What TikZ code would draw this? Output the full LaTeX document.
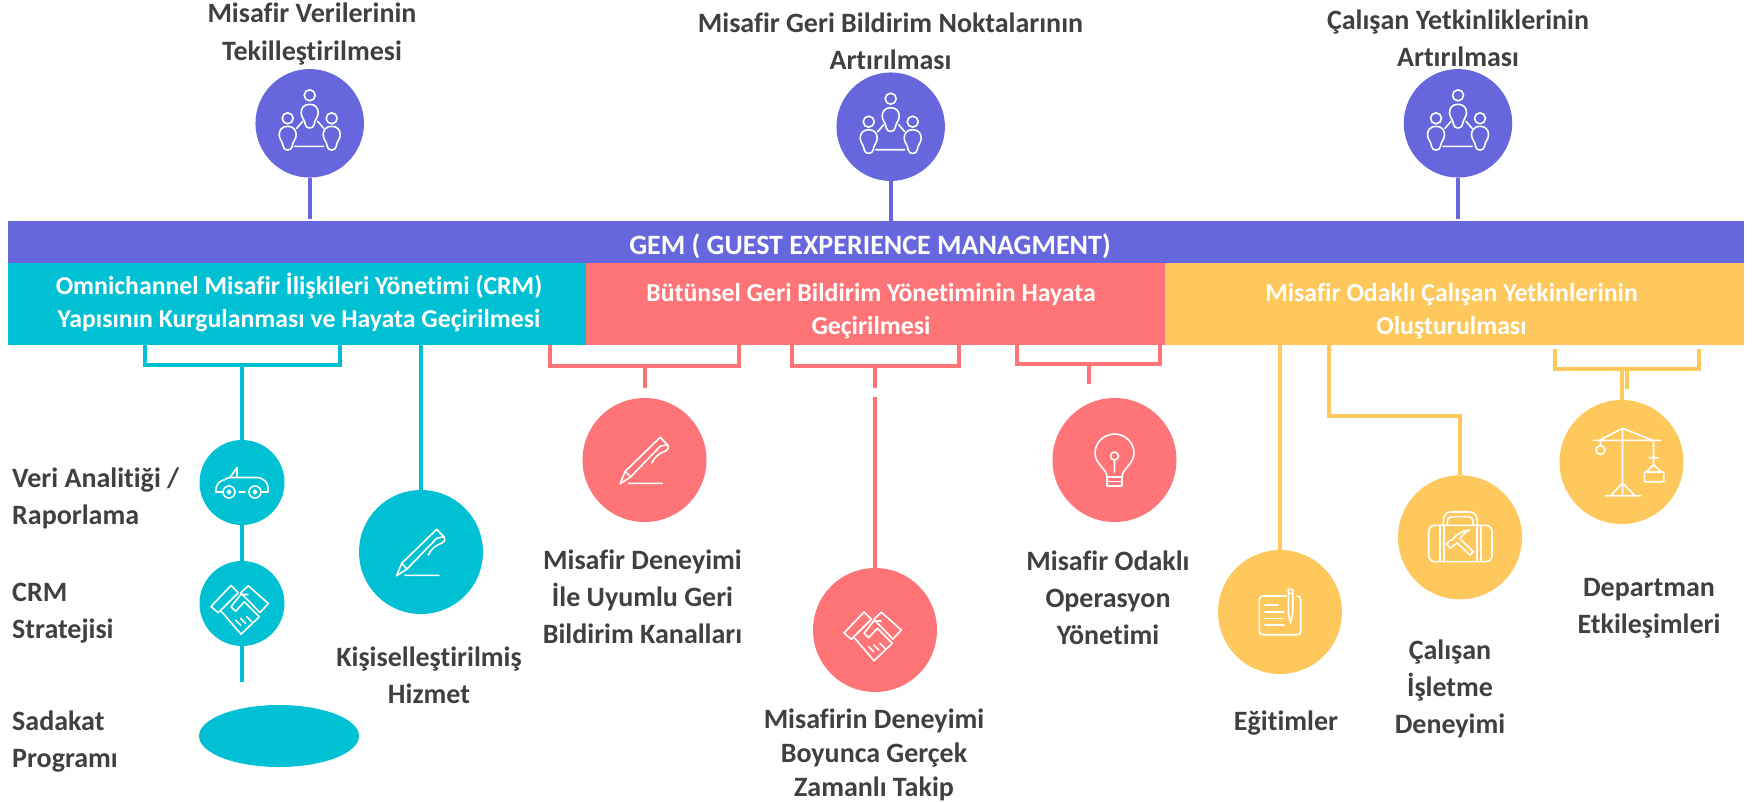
\documentclass[tikz,border=0pt]{standalone}
\usetikzlibrary{shapes.geometric}
\usepackage{fontspec}
\setmainfont[Ligatures=NoCommon]{Carlito}
\definecolor{cpur}{HTML}{6666DD}
\definecolor{cteal}{HTML}{00C1D4}
\definecolor{cred}{HTML}{FF7477}
\definecolor{cyel}{HTML}{FFC85C}
\definecolor{ctext}{HTML}{404040}
\tikzset{
  x=1pt,y=-1pt,
  lab/.style={text=ctext,font=\fontsize{28}{37}\selectfont\bfseries,align=center,inner sep=0pt},
  labl/.style={lab,align=left,anchor=west},
  band/.style={fill=#1,inner sep=0pt,outer sep=0pt},
  bandtext/.style={text=white,align=center,inner sep=0pt,font=\fontsize{25.8}{33}\selectfont\bfseries},
  disc/.style={circle,fill=#1,inner sep=0pt,outer sep=0pt},
  conn/.style={draw=#1,line width=4pt},
  ico/.style={draw=white,line width=1.6pt,line cap=round,line join=round},
  bulbp/.pic={\draw[ico] (0,0) .. controls (-6,0) and (-8.5,4) .. (-8.5,8.5) .. controls (-8.5,13) and (-5,15) .. (-4.5,20) .. controls (-4,25) and (4,25) .. (4.5,20) .. controls (5,15) and (8.5,13) .. (8.5,8.5) .. controls (8.5,4) and (6,0) .. (0,0) -- cycle;},
  people/.pic={
    \draw[ico] (0,-28) circle (5.5) (-22,-5) circle (5.5) (22,-5) circle (5.5);
    \pic at (0,-19) {bulbp}; \pic at (-22,3) {bulbp}; \pic at (22,3) {bulbp};
    \draw[ico] (-15,23)--(14,23) (-13,5)--(-7,-2) (14,5)--(8,-2);},
  caricon/.pic={
    \draw[ico] (-26,9.5) .. controls (-27,2) and (-22,-2) .. (-17,-3) .. controls (-15,-4) and (-14,-5) .. (-12,-5) -- (14,-5) .. controls (22,-5) and (27,0) .. (26,9.5);
    \draw[ico] (-12,-5) -- (-5,-15) -- (-5,-5);
    \draw[ico] (-13,9.5) circle (6) (13,9.5) circle (6) (-13,9.5) circle (1.8) (13,9.5) circle (1.8);
    \draw[ico] (-26,9.5)--(-20,9.5) (-3,9.5)--(3,9.5) (20,9.5)--(26,9.5);},
  shake/.pic={
    \draw[ico] (-31,3)--(-11,-18)--(-3.7,-10.7)--(-23.7,9.3)--cycle;
    \draw[ico] (-1.3,-10.7)--(6.3,-17.7)--(26.3,0)--(18,9)--cycle;
    \draw[ico] (-20.3,8.3)--(-1,30.7)--(17.3,13.3)--(2.3,-1.7)--(-6.3,7.7)--(-11,3.3)--(-1.3,-9)--(6,-9);
    \draw[ico] (-6.3,16.7)--(-1.3,21.7) (-1.3,15)--(3.7,20) (4.7,13.3)--(9.7,18.3);},
  penicon/.pic={
    \draw[ico] (-24.3,23.7)--(-19.3,11.3)--(15.7,-22.7)--(23,-15.3) .. controls (24.5,-12) and (23.5,-10) .. (21,-9) .. controls (15,-7) and (10,-3) .. (7.3,3);
    \draw[ico] (-24.3,23.7)--(-14,17)--(15.7,-13.7)--(23,-15.3);
    \draw[ico] (-19.3,11.3)--(-14,17) (-16,23.3)--(18,23.3);},
  bulbicon/.pic={
    \draw[ico] (-7.5,17) .. controls (-7.5,9) and (-19.5,4) .. (-19.5,-7) .. controls (-19.5,-18) and (-10,-26) .. (0,-26) .. controls (10,-26) and (19.5,-18) .. (19.5,-7) .. controls (19.5,4) and (7.5,9) .. (7.5,17);
    \draw[ico] (-7.5,17) rectangle (7.5,26) (-7.5,21.5)--(7.5,21.5);
    \draw[ico] (0,-4) circle (4) (0,0)--(0,12);},
  noteicon/.pic={
    \draw[ico] (6,-16)--(-17,-16) .. controls (-19,-16) and (-20.7,-15) .. (-20.7,-13) -- (-20.7,19.5) .. controls (-20.7,21.5) and (-19,22.7) .. (-17,22.7) -- (17.5,22.7) .. controls (19.5,22.7) and (20.7,21.5) .. (20.7,19.5) -- (20.7,-12) .. controls (20.7,-14.5) and (19.5,-16) .. (17,-16);
    \draw[ico] (-15,-7)--(-2,-7) (-15,0)--(4,0) (-15,6.3)--(4,6.3) (-15,13)--(4,13);
    \draw[ico] (8.3,-22.7)--(12.7,-22.7)--(12.7,1)--(10.5,11.3)--(8.3,1)--cycle (8.3,-18.5)--(12.7,-18.5);},
  suiticon/.pic={
    \draw[ico,rounded corners=6pt] (-31.3,-12) rectangle (32,24.3);
    \draw[ico] (-16.7,-12)--(-16.7,-16) .. controls (-16.7,-22) and (-14,-25.3) .. (-9,-25.3)--(9.5,-25.3) .. controls (14.5,-25.3) and (17.3,-22) .. (17.3,-16)--(17.3,-12);
    \draw[ico] (-12.7,-12)--(-12.7,-15) .. controls (-12.7,-18.5) and (-11,-20.7) .. (-8,-20.7)--(8.5,-20.7) .. controls (11.5,-20.7) and (13,-18.5) .. (13,-15)--(13,-12);
    \draw[ico] (-20,-12)--(-20,24.3) (-16,-12)--(-16,24.3) (16.7,-12)--(16.7,24.3) (20.7,-12)--(20.7,24.3);
    \draw[ico] (-13.3,6.7)--(-10,3)--(-8,3) .. controls (-4,-3) and (3,-7) .. (9.3,-7.3) .. controls (4,-4) and (1,-1) .. (0,1.5)--(13.3,14.5)--(10,17.7)--(-3,5.5)--(-9.5,11)--cycle;},
  craneicon/.pic={
    \draw[ico] (1,-33.7)--(1,33.7) (-28,-21.7)--(39.3,-21.7) (-22,-21.7)--(1,-33.7)--(31,-21.7);
    \draw[ico] (-16,33.7)--(19,33.7) (1,21)--(-10.6,33.7) (1,21)--(13.5,33.7);
    \draw[ico] (-21,-21.7)--(-21,-16.5) (-21,-12) circle (4.5);
    \draw[ico] (32,-21.7)--(32,3) (27.6,-4.3)--(36.4,-4.3) (24.5,10)--(32,3)--(40.3,10);
    \draw[ico,rounded corners=1pt] (22.8,10) rectangle (42.4,19.7);}
}
\begin{document}
\begin{tikzpicture}
\useasboundingbox (0,0) rectangle (1752,801);
% bands
\node[band=cpur,minimum width=1736,minimum height=42,anchor=north west] (gem) at (8,221) {};
\node[band=cteal,minimum width=578,minimum height=82,anchor=north west] (b1) at (8,263) {};
\node[band=cred,minimum width=579,minimum height=82,anchor=north west] (b2) at (586,263) {};
\node[band=cyel,minimum width=579,minimum height=82,anchor=north west] (b3) at (1165,263) {};
\node[bandtext,font=\fontsize{28}{33}\selectfont\bfseries] (gemt) at (870,246) {GEM ( GUEST EXPERIENCE MANAGMENT)};
\node[bandtext] (b1t) at (299,302) {Omnichannel Misafir İlişkileri Yönetimi (CRM)\\Yapısının Kurgulanması ve Hayata Geçirilmesi};
\node[bandtext] (b2t) at (871,311) {Bütünsel Geri Bildirim Yönetiminin Hayata\\Geçirilmesi};
\node[bandtext] (b3t) at (1451.5,311) {Misafir Odaklı Çalışan Yetkinlerinin\\Oluşturulması};
% top circles
\node[disc=cpur,minimum size=108.5] (t1) at (309.7,123.3) {};
\node[disc=cpur,minimum size=108.5] (t2) at (890.7,126.7) {};
\node[disc=cpur,minimum size=108.5] (t3) at (1458,123.3) {};
\coordinate (t1e) at (309.7,219); \coordinate (t2e) at (890.7,221); \coordinate (t3e) at (1458,219);
\draw[conn=cpur] (t1)--(t1e); \draw[conn=cpur] (t2)--(t2e); \draw[conn=cpur] (t3)--(t3e);
\pic at (t1.center) {people}; \pic at (t2.center) {people}; \pic at (t3.center) {people};
\node[lab] (tt1) at (312,34) {Misafir Verilerinin\\[1pt]Tekilleştirilmesi};
\node[lab] (tt2) at (890.5,41) {Misafir Geri Bildirim Noktalarının\\Artırılması};
\node[lab] (tt3) at (1458,38) {Çalışan Yetkinliklerinin\\Artırılması};
% teal
\node[disc=cteal,minimum size=85] (c1) at (242,482.5) {};
\node[disc=cteal,minimum size=85] (c2) at (242,603.5) {};
\node[disc=cteal,minimum size=124] (c4) at (421,552) {};
\node[ellipse,fill=cteal,minimum width=160,minimum height=62,inner sep=0pt] (c3) at (279,736) {};
\coordinate (a1) at (145,345); \coordinate (a2) at (145,365); \coordinate (a3) at (339.5,365); \coordinate (a4) at (339.5,345); \coordinate (a5) at (242,365); \coordinate (a6) at (242,682); \coordinate (a7) at (421,345);
\draw[conn=cteal] (a1)--(a2)--(a3)--(a4);
\draw[conn=cteal] (a5)--(c1); \draw[conn=cteal] (c1)--(c2); \draw[conn=cteal] (c2)--(a6);
\draw[conn=cteal] (a7)--(c4);
\pic at (c1.center) {caricon}; \pic at (c2.center) {shake}; \pic at (c4.center) {penicon};
\node[labl] (l1) at (12,498) {Veri Analitiği /\\Raporlama};
\node[labl] (l2) at (12,613.5) {CRM\\Stratejisi};
\node[labl] (l3) at (12,741.5) {Sadakat\\Programı};
\node[lab] (l4) at (429,675.5) {Kişiselleştirilmiş\\Hizmet};
% red
\node[disc=cred,minimum size=124] (r1) at (644.5,460) {};
\node[disc=cred,minimum size=124] (r2) at (875,630) {};
\node[disc=cred,minimum size=124] (r3) at (1114.5,460) {};
\coordinate (p1) at (550,345); \coordinate (p2) at (550,366); \coordinate (p3) at (738.5,366); \coordinate (p4) at (738.5,345); \coordinate (p5) at (644.5,366); \coordinate (p6) at (644.5,388);
\draw[conn=cred] (p1)--(p2)--(p3)--(p4); \draw[conn=cred] (p5)--(p6);
\coordinate (q1) at (792,345); \coordinate (q2) at (792,366); \coordinate (q3) at (959,366); \coordinate (q4) at (959,345); \coordinate (q5) at (875,366); \coordinate (q6) at (875,388); \coordinate (q7) at (875,397);
\draw[conn=cred] (q1)--(q2)--(q3)--(q4); \draw[conn=cred] (q5)--(q6); \draw[conn=cred] (q7)--(r2);
\coordinate (s1) at (1017,345); \coordinate (s2) at (1017,364); \coordinate (s3) at (1160,364); \coordinate (s4) at (1160,345); \coordinate (s5) at (1088.5,364); \coordinate (s6) at (1088.5,384);
\draw[conn=cred] (s1)--(s2)--(s3)--(s4); \draw[conn=cred] (s5)--(s6);
\pic at (r1.center) {penicon}; \pic at (r2.center) {shake}; \pic at (r3.center) {bulbicon};
\node[lab] (l5) at (642.5,597) {Misafir Deneyimi\\İle Uyumlu Geri\\Bildirim Kanalları};
\node[lab] (l6) at (874,755) {Misafirin Deneyimi\\[-3pt]Boyunca Gerçek\\[-3pt]Zamanlı Takip};
\node[lab] (l7) at (1108,597.5) {Misafir Odaklı\\Operasyon\\Yönetimi};
% yellow
\node[disc=cyel,minimum size=124] (y1) at (1280,612) {};
\node[disc=cyel,minimum size=124] (y2) at (1460,537.3) {};
\node[disc=cyel,minimum size=124] (y3) at (1621.5,462) {};
\coordinate (u1) at (1280,345); \coordinate (u2) at (1329,345); \coordinate (u3) at (1329,416); \coordinate (u4) at (1460,416);
\draw[conn=cyel] (u1)--(y1); \draw[conn=cyel] (u2)--(u3)--(u4)--(y2);
\coordinate (w1) at (1555,349); \coordinate (w2) at (1555,369); \coordinate (w3) at (1698.7,369); \coordinate (w4) at (1698.7,349); \coordinate (w5) at (1621.5,369); \coordinate (w6) at (1627,369); \coordinate (w7) at (1627,388.7);
\draw[conn=cyel] (w1)--(w2)--(w3)--(w4); \draw[conn=cyel] (w5)--(y3); \draw[conn=cyel] (w6)--(w7);
\pic at (y1.center) {noteicon}; \pic at (y2.center) {suiticon}; \pic at (y3.center) {craneicon};
\node[lab] (l8) at (1286,723.5) {Eğitimler};
\node[lab] (l9) at (1450,688.5) {Çalışan\\İşletme\\Deneyimi};
\node[lab] (l10) at (1649,608.5) {Departman\\Etkileşimleri};
\end{tikzpicture}
\end{document}
